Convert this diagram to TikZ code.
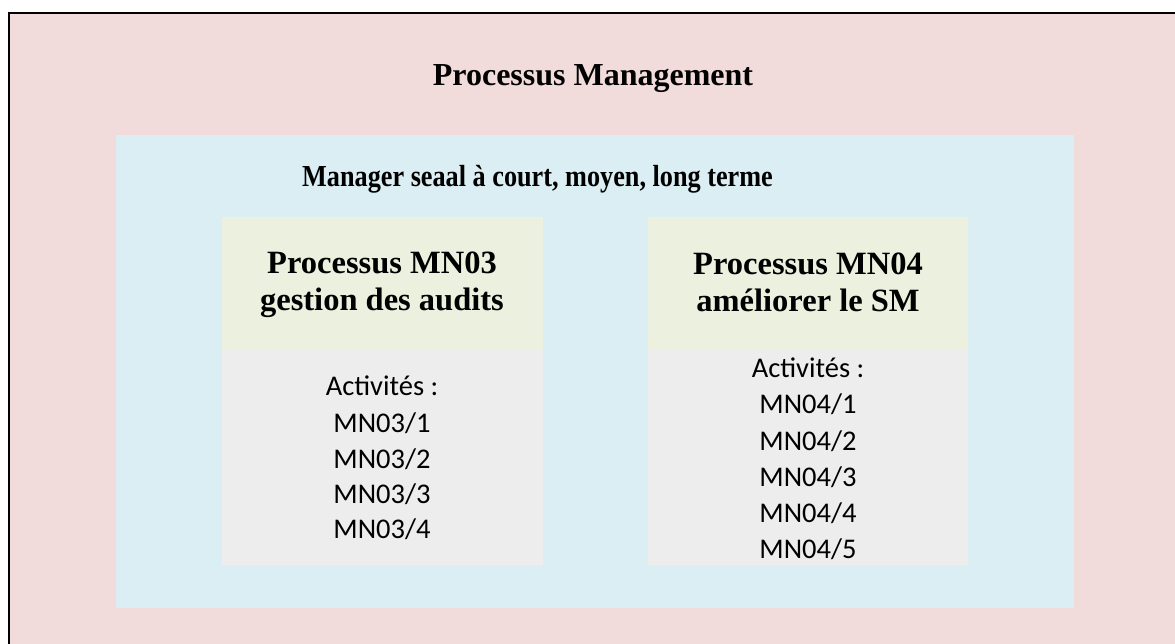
\documentclass[tikz,border=0pt]{standalone}
\usepackage{fontspec}
\setmainfont{Liberation Serif}
\newfontfamily\actfont{Carlito}
\definecolor{outerpink}{HTML}{F2DCDB}
\definecolor{innerblue}{HTML}{DAEEF3}
\definecolor{headgreen}{HTML}{EBF1DE}
\definecolor{listgrey}{HTML}{EDEDED}
\begin{document}
\begin{tikzpicture}[x=1pt,y=-1pt,
  titletext/.style={font=\fontsize{32}{36}\selectfont\bfseries,anchor=base,inner sep=0pt},
  subtext/.style={font=\fontsize{30.5}{36}\selectfont\bfseries,anchor=base,inner sep=0pt,xscale=0.86},
  headtext/.style={font=\fontsize{32.5}{36}\selectfont\bfseries,anchor=base,inner sep=0pt},
  acttext/.style={font=\actfont\fontsize{28.5}{36}\selectfont,anchor=base,inner sep=0pt}]
% canvas
\useasboundingbox (0,0) rectangle (1175,644);
\fill[white] (0,0) rectangle (1175,644);
% outer frame (pink), only its top and left edges fall inside the page
\fill[outerpink] (9,13) rectangle (1175,644);
\draw[line width=2.6pt] (9,644) -- (9,13) -- (1175,13);
\node[titletext] (title) at (593,86) {Processus Management};
% inner blue panel
\fill[innerblue] (116,135) rectangle (1074,608);
\node[subtext] (sub) at (537.5,187) {Manager seaal à court, moyen, long terme};
% left process column
\fill[headgreen] (222,217) rectangle (543,350);
\fill[listgrey] (222,350) rectangle (543,565);
\node[headtext] (h3a) at (382,274) {Processus MN03};
\node[headtext] (h3b) at (382,310) {gestion des audits};
\node[acttext] (a3) at (382,395) {Activités :};
\node[acttext] (a31) at (382,432) {MN03/1};
\node[acttext] (a32) at (382,468) {MN03/2};
\node[acttext] (a33) at (382,503) {MN03/3};
\node[acttext] (a34) at (382,538) {MN03/4};
% right process column
\fill[headgreen] (648,217) rectangle (968,350);
\fill[listgrey] (648,350) rectangle (968,565);
\node[headtext] (h4a) at (808,275) {Processus MN04};
\node[headtext] (h4b) at (808,312) {améliorer le SM};
\node[acttext] (a4) at (808,377) {Activités :};
\node[acttext] (a41) at (808,413) {MN04/1};
\node[acttext] (a42) at (808,450) {MN04/2};
\node[acttext] (a43) at (808,486) {MN04/3};
\node[acttext] (a44) at (808,522) {MN04/4};
\node[acttext] (a45) at (808,558) {MN04/5};
\end{tikzpicture}
\end{document}
